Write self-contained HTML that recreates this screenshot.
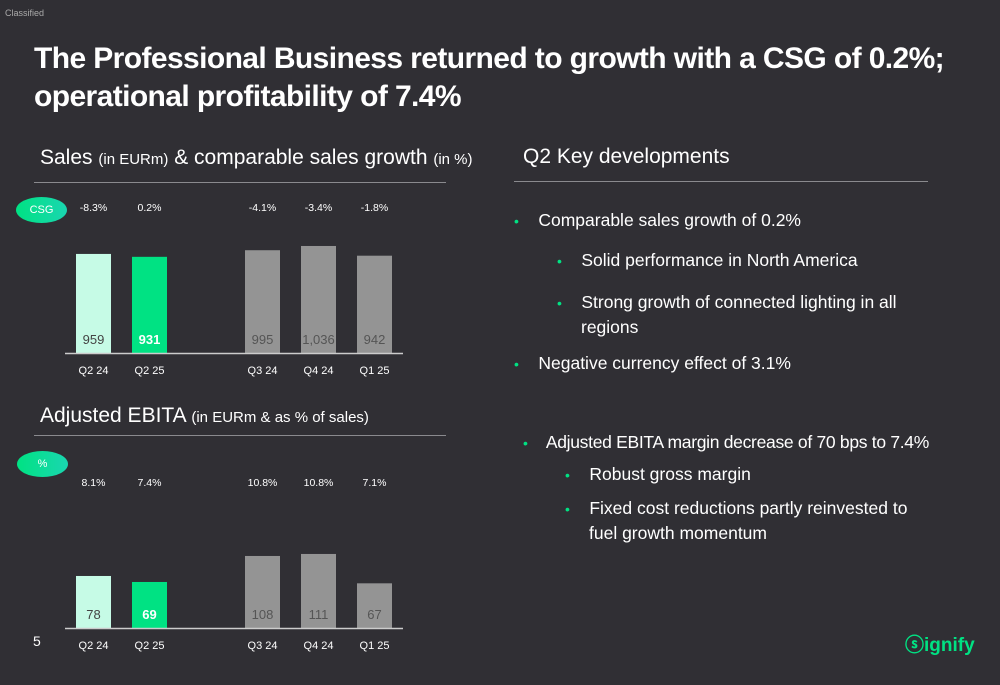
<!DOCTYPE html>
<html><head><meta charset="utf-8">
<style>
body{margin:0;width:1000px;height:685px;background:#302f34;font-family:"Liberation Sans",sans-serif;color:#fff;position:relative;overflow:hidden}
.a{position:absolute;white-space:nowrap}
.t{font-size:30px;font-weight:bold;line-height:38px;letter-spacing:-0.6px}
.hr{position:absolute;height:1px;background:#8a8a8e}
.b{font-size:17.5px}
.dot{color:#00e283;font-size:14px}
</style></head><body>
<div class="a" style="left:5px;top:8px;font-size:9px;color:#aaa">Classified</div>
<div class="a t" style="left:34px;top:40px">The Professional Business returned to growth with a CSG of 0.2%;<br>operational profitability of 7.4%</div>
<div class="a" style="left:40px;top:146px;font-size:21px">Sales <span style="font-size:15px">(in EURm)</span> &amp; comparable sales growth <span style="font-size:15px">(in %)</span></div>
<div class="hr" style="left:34px;top:182px;width:412px"></div>
<div class="a" style="left:40px;top:404px;font-size:21px">Adjusted EBITA <span style="font-size:15px">(in EURm &amp; as % of sales)</span></div>
<div class="hr" style="left:34px;top:435px;width:412px"></div>
<div class="a" style="left:16px;top:197px;width:51px;height:26px;border-radius:50%;background:linear-gradient(90deg,#00e283,#1ad6b0);font-size:11px;text-align:center;line-height:26px">CSG</div>
<div class="a" style="left:17px;top:451px;width:51px;height:26px;border-radius:50%;background:linear-gradient(90deg,#00e283,#1ad6b0);font-size:11px;text-align:center;line-height:26px">%</div>
<svg id="ch" class="a" style="left:0;top:0" width="460" height="685"></svg>
<div class="a" style="left:523px;top:145px;font-size:21px">Q2 Key developments</div>
<div class="hr" style="left:514px;top:181px;width:414px"></div>
<div class="a b" style="left:514px;top:210px"><span class="dot">•</span>&nbsp;&nbsp;&nbsp;&nbsp;Comparable sales growth of 0.2%</div>
<div class="a b" style="left:557px;top:250px"><span class="dot">•</span>&nbsp;&nbsp;&nbsp;&nbsp;Solid performance in North America</div>
<div class="a b" style="left:557px;top:290px;line-height:24px"><span class="dot">•</span>&nbsp;&nbsp;&nbsp;&nbsp;Strong growth of connected lighting in all<br><span style="padding-left:24px">regions</span></div>
<div class="a b" style="left:514px;top:353px"><span class="dot">•</span>&nbsp;&nbsp;&nbsp;&nbsp;Negative currency effect of 3.1%</div>
<div class="a b" style="left:523px;top:432px;letter-spacing:-0.3px"><span class="dot">•</span>&nbsp;&nbsp;&nbsp;&nbsp;Adjusted EBITA margin decrease of 70 bps to 7.4%</div>
<div class="a b" style="left:565px;top:464px"><span class="dot">•</span>&nbsp;&nbsp;&nbsp;&nbsp;Robust gross margin</div>
<div class="a b" style="left:565px;top:496px;line-height:24px"><span class="dot">•</span>&nbsp;&nbsp;&nbsp;&nbsp;Fixed cost reductions partly reinvested to<br><span style="padding-left:24px">fuel growth momentum</span></div>
<div class="a" style="left:33px;top:633px;font-size:14px">5</div>
<div class="a" style="left:905px;top:630px;font-size:19px;color:#00e283;font-weight:bold">ⓢignify</div>
<script>
const cats=["Q2 24","Q2 25","Q3 24","Q4 24","Q1 25"];
const sales=[959,931,995,1036,942];
const salesLbl=["959","931","995","1,036","942"];
const csg=["-8.3%","0.2%","-4.1%","-3.4%","-1.8%"];
const ebita=[78,69,108,111,67];
const margin=["8.1%","7.4%","10.8%","10.8%","7.1%"];
const xs=[76,132,245,301,357];
const fills=["#c6fbe6","#00e283","#949494","#949494","#949494"];
const txtc=["#444","#fff","#555","#555","#555"];
const svg=document.getElementById('ch');
const NS="http://www.w3.org/2000/svg";
function mk(t,a,txt){const e=document.createElementNS(NS,t);for(const k in a)e.setAttribute(k,a[k]);if(txt!=null)e.textContent=txt;svg.appendChild(e);return e;}
function chart(vals,lbls,tops,base,scale,topY,name){
  vals.forEach((v,i)=>{
    const h=v*scale;
    const r=mk('rect',{x:xs[i],y:base-h,width:35,height:h,fill:fills[i]});
    
    
    mk('text',{x:xs[i]+17.5,y:base-9,'text-anchor':'middle','font-size':13,fill:txtc[i],'font-weight':i==1?'bold':'normal'},lbls[i]);
    mk('text',{x:xs[i]+17.5,y:topY,'text-anchor':'middle','font-size':10.5,fill:'#fff'},tops[i]);
    mk('text',{x:xs[i]+17.5,y:base+21,'text-anchor':'middle','font-size':11,fill:'#fff'},cats[i]);
  });
  mk('line',{x1:65,x2:403,y1:base+0.5,y2:base+0.5,stroke:'#ccc','stroke-width':1.5});
}
chart(sales,salesLbl,csg,353,0.1033,211,'sales');
chart(ebita,ebita.map(String),margin,628,0.667,486,'ebita');
</script>
</body></html>
